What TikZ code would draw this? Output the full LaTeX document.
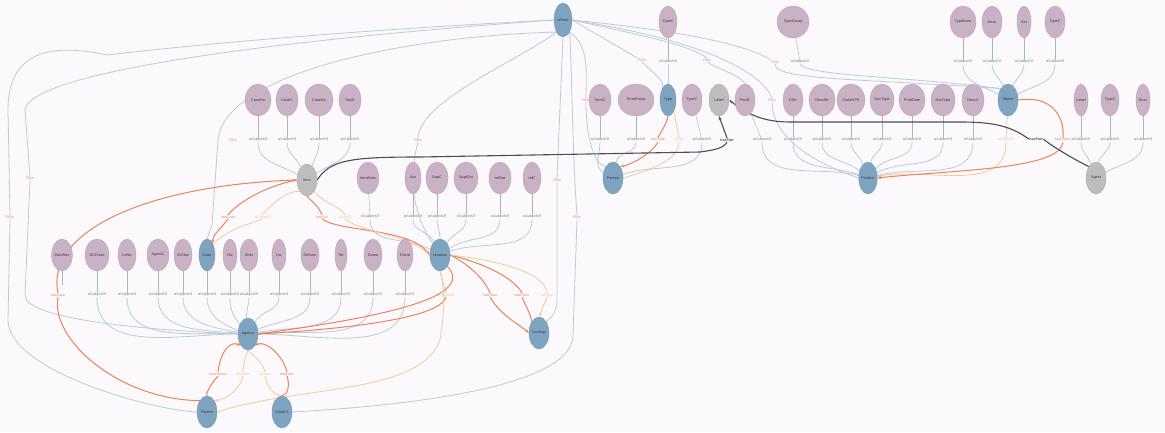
\documentclass[tikz,border=0pt]{standalone}
\usepackage{fontspec}
\setmainfont{Liberation Sans}
\usetikzlibrary{shapes.geometric,arrows.meta}
\pgfdeclarelayer{edges}
\pgfsetlayers{edges,main}
\definecolor{bg}{HTML}{FBF9FB}
\definecolor{mauve}{HTML}{C9B2C4}
\definecolor{mauveD}{HTML}{B8A0B3}
\definecolor{bluen}{HTML}{7FA4C0}
\definecolor{blueD}{HTML}{6E93B0}
\definecolor{grayn}{HTML}{BDBDBF}
\definecolor{grayD}{HTML}{A8A8AA}
\definecolor{edgeb}{HTML}{BCCBD9}
\definecolor{orng}{HTML}{E8845A}
\definecolor{lorng}{HTML}{F5C99A}
\definecolor{labgray}{HTML}{7A7A88}
\definecolor{darkk}{HTML}{4A4E55}
\definecolor{txtc}{HTML}{3F353F}
\newcommand\nodefont{\fontsize{3.8}{4.2}\selectfont}
\newcommand\edgefont{\fontsize{3.6}{4}\selectfont}
\begin{document}
\begin{tikzpicture}[x=1pt,y=-1pt,
 cls/.style={ellipse,fill=mauve,draw=mauveD,line width=0.3pt,inner sep=0pt,minimum height=32pt,font=\nodefont,text=txtc},
 bhub/.style={cls,fill=bluen,draw=blueD},
 ghub/.style={cls,fill=grayn,draw=grayD},
 lab/.style={font=\edgefont,text=labgray,inner sep=0.5pt},
 olab/.style={lab,text=orng},
 ylab/.style={lab,text=lorng!90!orange},
 klab/.style={lab,text=darkk,font=\edgefont\bfseries},
 e/.style={draw=edgeb,line width=0.8pt},
 tick/.style={draw=edgeb!70!gray,line width=0.4pt},
 eo/.style={draw=orng,line width=1pt},
 ey/.style={draw=lorng,line width=0.8pt},
 ek/.style={draw=darkk,line width=1.1pt},
 arr/.style={-{Stealth[length=4pt,width=3pt]}},
]
% ---------- nodes ----------
\node[bhub,minimum width=18pt,minimum height=34pt] (A) at (563,20) {isRoot};
\node[cls,minimum width=18pt] (tB) at (668,22) {TypeC};
\node[cls,minimum width=32pt] (tC) at (793,22) {TypeGroup};
\node[cls,minimum width=26pt] (tD) at (963,22) {TypeNum};
\node[cls,minimum width=20pt] (tE) at (992,22) {Desc};
\node[cls,minimum width=14pt] (tF) at (1024,22) {Set};
\node[cls,minimum width=20pt] (tG) at (1055,22) {TypeC};
% row 1
\foreach \n/\x/\w/\t in {m1/258/26/CaseNo,m2/287/22/CaseC,m3/319/28/CaseNo,m4/350/22/TaxID,
  m5/600/22/TermC,m6/636/36/TermGroup,m8/692/20/TypeC,m10/745/20/ProdC,
  m11/793/20/DStr,m12/822/26/DescStr,m13/851/28/CodeNTR,m14/882/24/DocType,
  m15/912/26/ProdDate,m16/943/24/DocDate,m17/973/22/DescS,
  m19/1081/14/Label,m20/1110/18/TypeC,m21/1143/14/Desc}
  \node[cls,minimum width=\w pt] (\n) at (\x,100) {\t};
\node[bhub,minimum width=16pt] (m7) at (668,100) {Type};
\node[ghub,minimum width=20pt] (m9) at (719,100) {Label};
\node[bhub,minimum width=20pt] (m18) at (1008,100) {Object};
% row 2
\node[ghub,minimum width=20pt] (h1) at (307,180) {Item};
\foreach \n/\x/\w/\t in {s1/368/20/ItemDate,s2/413/16/Apt,s3/437/22/NapC,s4/466/24/ApptDat,s5/500/22/relDat,s6/532/18/relC}
  \node[cls,minimum width=\w pt] (\n) at (\x,178) {\t};
\node[bhub,minimum width=20pt] (h2) at (613,178) {Person};
\node[bhub,minimum width=18pt] (h3) at (868,178) {Product};
\node[ghub,minimum width=20pt] (h4) at (1096,178) {Agent};
% row 3
\foreach \n/\x/\w/\t in {r1/62/20/DataRes,r2/97/24/DCClass,r3/127/18/LeNo,r4/158/22/AgentC,r5/183/18/IDClas,
  r7/230/14/Div,r8/249/18/IDcls,r9/279/14/Ins,r10/310/18/DeNum,r11/341/12/Tel,r12/373/18/Dateo,r13/405/16/DocId}
  \node[cls,minimum width=\w pt] (\n) at (\x,255) {\t};
\node[bhub,minimum width=16pt] (r6) at (207,255) {Case};
\node[bhub,minimum width=18pt] (r14) at (440,255) {Location};
% bottom
\node[bhub,minimum width=20pt] (b1) at (248,334) {Agency};
\node[bhub,minimum width=20pt] (b2) at (539,333) {LocMap};
\node[bhub,minimum width=20pt] (b3) at (207,412) {Patient};
\node[bhub,minimum width=20pt] (b4) at (282,412) {DataCS};
% ---------- edges ----------
\begin{pgfonlayer}{edges}
\fill[bg] (0,0) rectangle (1165,432);
\useasboundingbox (0,0) rectangle (1165,432);
% top classes -> labels
\foreach \n/\x in {tB/668,tC/800,tD/963,tE/992,tF/1024,tG/1055}
 { \node[lab] (l\n) at (\x,62) {isSubjectOf}; \draw[tick] (\n) -- (l\n); }
\draw[e] (ltB) -- (m7);
\draw[e] (ltC.south) .. controls (810,76) and (900,76) .. (m18.north west);
\foreach \n/\a in {tD/150,tE/110,tF/70,tG/30}
 \draw[e] (l\n.south) to[out=-90,in=\a] (m18);
% row 1 left -> h1
\foreach \n/\x/\a in {m1/258/150,m2/287/115,m3/319/70,m4/350/35}
 { \node[lab] (l\n) at (\x,140) {isSubjectOf}; \draw[tick] (\n) -- (l\n); \draw[e] (l\n.south) to[out=-90,in=\a] (h1); }
% row 1 middle -> h2
\foreach \n/\x/\a in {m5/600/150,m6/636/80,m8/702/20}
 { \node[lab] (l\n) at (\x,140) {isSubjectOf}; \draw[tick] (\n) -- (l\n); \draw[e] (l\n.south) to[out=-90,in=\a] (h2); }
\node[lab] (lm10) at (762,140) {isSubjectOf}; \draw[tick] (m10) -- (lm10);
\draw[e] (lm10.south) to[out=-90,in=165] (h3);
% row 1 right -> h3
\foreach \n/\x/\a in {m11/793/160,m12/822/140,m13/851/110,m14/882/80,m15/912/50,m16/943/30,m17/973/15}
 { \node[lab] (l\n) at (\x,140) {isSubjectOf}; \draw[tick] (\n) -- (l\n); \draw[e] (l\n.south) to[out=-90,in=\a] (h3); }
\node[ylab] (lm18) at (1006,140) {isObjectOf}; \draw[tick] (m18) -- (lm18);
\draw[ey,arr] (lm18.south) to[out=-90,in=10] (h3);
\node[olab] (lm18b) at (1063,140) {hasObject};
\draw[eo] (m18.east) .. controls (1050,95) and (1065,115) .. (lm18b.north);
\draw[eo,arr] (lm18b.south) .. controls (1060,170) and (950,170) .. (h3.east);
% row 1 right -> h4
\foreach \n/\x/\a in {m19/1081/110,m20/1110/80,m21/1143/30}
 { \node[lab] (l\n) at (\x,140) {isSubjectOf}; \draw[tick] (\n) -- (l\n); \draw[e] (l\n.south) to[out=-90,in=\a] (h4); }
% m7 -> h2 orange
\node[olab] (lm7) at (658,140) {hasType};
\node[ylab] (lm7b) at (679,140) {isType};
\draw[eo] (m7.south) .. controls (666,125) and (662,130) .. (lm7.north);
\draw[eo,arr] (lm7.south) .. controls (650,155) and (630,165) .. (h2.north east);
\draw[ey] (h2.east) .. controls (650,170) and (679,160) .. (lm7b.south);
\draw[ey] (lm7b.north) -- (m7.south east);
% row 2 -> r14
\foreach \n/\x/\a in {s1/370/150,s2/413/115,s3/437/90,s4/466/60,s5/500/35,s6/532/20}
 { \node[lab] (l\n) at (\x,217) {isSubjectOf}; \draw[tick] (\n) -- (l\n); \draw[e] (l\n.south) to[out=-90,in=\a] (r14); }
% row 3 -> b1
\foreach \n/\x/\a in {r2/97/180,r3/127/178,r4/158/175,r5/183/170,r6/207/160,r7/230/130,r8/249/95,r9/279/60,r10/310/25,r11/341/10,r12/373/5,r13/405/0}
 { \node[lab] (l\n) at (\x,295) {isSubjectOf}; \draw[tick] (\n) -- (l\n); \draw[e] (l\n.south) to[out=-90,in=\a] (b1); }
\draw[tick] (r1) -- (62,285);
% A long edges
\node[olab] (ra1) at (10,217) {ROa};
\node[olab] (ra2) at (30,178) {ROa};
\draw[e] (A.west) .. controls (300,33) and (150,50) .. (107,55) .. controls (60,45) and (8,45) .. (8,110) -- (ra1.north);
\draw[e] (ra1.south) -- (8,320) .. controls (8,370) and (150,410) .. (b3.west);
\draw[e] (A.west) .. controls (300,38) and (30,70) .. (25,110) -- (ra2.north);
\draw[e] (ra2.south) -- (25,295) .. controls (25,320) and (150,330) .. (b1.west);
\node[olab] (ra3) at (233,140) {ROa};
\draw[e] (A.south west) .. controls (420,35) and (225,70) .. (218,140) -- (212,225) -- (r6.north);
\node[olab] (ra4) at (418,140) {ROa};
\draw[e] (A.south west) .. controls (520,60) and (420,100) .. (ra4.north);
\draw[e] (ra4.south) .. controls (405,190) and (420,225) .. (r14.north west);
\node[olab] (ra5) at (557,180) {ROa};
\draw[e] (A.south) -- (ra5.north);
\draw[e] (ra5.south) -- (557,300) .. controls (557,310) and (552,318) .. (b2.north east);
\node[olab] (ra6) at (577,217) {ROa};
\draw[e] (A.south east) .. controls (572,60) and (572,150) .. (ra6.north);
\draw[e] (ra6.south) -- (573,335) .. controls (573,385) and (420,405) .. (b4.east);
\node[olab] (ra7) at (642,60) {ROa};
\draw[e] (A.east) -- (ra7.north west);
\draw[e] (ra7.south) .. controls (655,75) and (665,80) .. (m7.north west);
\node[olab] (ra8) at (707,60) {ROa};
\draw[e] (A.east) .. controls (640,35) and (690,45) .. (ra8.north);
\draw[e] (ra8.south) .. controls (720,70) and (740,75) .. (m10.north);
\node[olab] (ra9) at (586,100) {ROa};
\draw[e] (A.south east) .. controls (590,45) and (586,75) .. (ra9.north);
\draw[e] (ra9.south) .. controls (586,140) and (595,165) .. (h2.north west);
\node[olab] (ra10) at (775,62) {ROa};
\draw[e] (A.east) .. controls (650,28) and (740,40) .. (ra10.north west);
\draw[e] (ra10.south) .. controls (775,80) and (850,78) .. (m18.north west);
\node[olab] (ra11) at (772,100) {ROa};
\draw[e] (A.east) .. controls (700,40) and (760,70) .. (ra11.north);
\draw[e] (ra11.south) .. controls (772,140) and (820,165) .. (h3.west);
% dark edges
\node[klab] (lk1) at (727,140) {hasPart};
\draw[ek] (h1.east) .. controls (330,160) and (350,157) .. (420,157) -- (700,152) .. controls (715,150) and (724,148) .. (lk1.south);
\draw[ek,arr] (lk1.north) -- (m9.south);
\node[klab] (lk2) at (1036,139) {hasPart};
\draw[ek] (h4.north west) .. controls (1075,160) and (1050,145) .. (lk2.east);
\draw[ek,arr] (lk2.west) .. controls (1010,125) and (990,122) .. (960,122) -- (790,122) .. controls (760,122) and (745,112) .. (m9.east);
% orange edges around h1
\node[olab] (lo1) at (228,217) {hasCase};
\node[ylab] (lo2) at (262,217) {isCaseOf};
\draw[eo] (h1.west) .. controls (270,185) and (240,200) .. (lo1.north);
\draw[eo,arr] (lo1.south) .. controls (220,230) and (212,235) .. (r6.north east);
\draw[ey] (r6.north east) .. controls (235,225) and (250,225) .. (lo2.south);
\draw[ey] (lo2.north) .. controls (275,200) and (290,190) .. (h1.south west);
\node[olab] (lo3) at (58,295) {hasCase};
\draw[eo] (b3.north west) .. controls (120,400) and (50,340) .. (lo3.south);
\draw[eo,arr] (lo3.north) .. controls (45,230) and (150,185) .. (h1.west);
\node[olab] (lo4) at (322,217) {hasLoc};
\node[ylab] (lo5) at (345,217) {isLocOf};
\draw[eo] (h1.south) .. controls (310,200) and (318,205) .. (lo4.north);
\draw[eo,arr] (lo4.south) .. controls (340,232) and (410,228) .. (r14.west);
\draw[ey] (h1.south east) .. controls (325,205) and (340,205) .. (lo5.north);
\draw[ey] (lo5.south) .. controls (360,232) and (410,235) .. (r14.west);
% r14 -> b1, b2
\node[ylab] (lo6) at (446,295) {isLocatedIn};
\draw[ey] (r14.south) -- (lo6.north);
\draw[eo] (lo6.south) .. controls (440,320) and (330,330) .. (b1.east);
\draw[eo] (r14.south east) .. controls (480,300) and (360,320) .. (b1.east);
\node[olab] (lo7) at (490,295) {hasPlace};
\node[olab] (lo8) at (522,295) {hasPlace};
\node[ylab] (lo9) at (547,295) {isPlace};
\draw[eo] (r14.east) .. controls (470,265) and (485,280) .. (lo7.north);
\draw[eo,arr] (lo7.south) .. controls (500,315) and (520,325) .. (b2.west);
\draw[eo] (r14.east) .. controls (490,265) and (515,280) .. (lo8.north);
\draw[eo] (lo8.south) .. controls (525,305) and (530,312) .. (b2.north west);
\draw[ey] (r14.east) .. controls (510,262) and (545,275) .. (lo9.north);
\draw[ey,arr] (lo9.south) -- (b2.north);
\draw[ey] (b3.east) .. controls (300,385) and (420,395) .. (440,340) .. controls (445,310) and (445,290) .. (r14.south);
% b1 <-> b3, b4
\node[olab] (lb1) at (218,374) {hasPatient};
\node[ylab] (lb2) at (243,374) {isPatient};
\node[ylab] (lb3) at (265,374) {isData};
\node[olab] (lb4) at (287,374) {hasData};
\draw[eo] (b3.north) .. controls (205,395) and (210,385) .. (lb1.south);
\draw[eo,arr] (lb1.north) .. controls (220,355) and (228,340) .. (b1.south west);
\draw[ey] (b1.south) .. controls (246,355) and (244,360) .. (lb2.north);
\draw[ey,arr] (lb2.south) .. controls (240,390) and (225,400) .. (b3.north east);
\draw[ey] (b1.south) .. controls (252,355) and (262,360) .. (lb3.north);
\draw[ey] (lb3.south) .. controls (268,390) and (275,395) .. (b4.north);
\draw[eo] (b4.north) .. controls (288,395) and (290,385) .. (lb4.south);
\draw[eo,arr] (lb4.north) .. controls (283,355) and (265,340) .. (b1.south east);
\end{pgfonlayer}
\end{tikzpicture}
\end{document}
